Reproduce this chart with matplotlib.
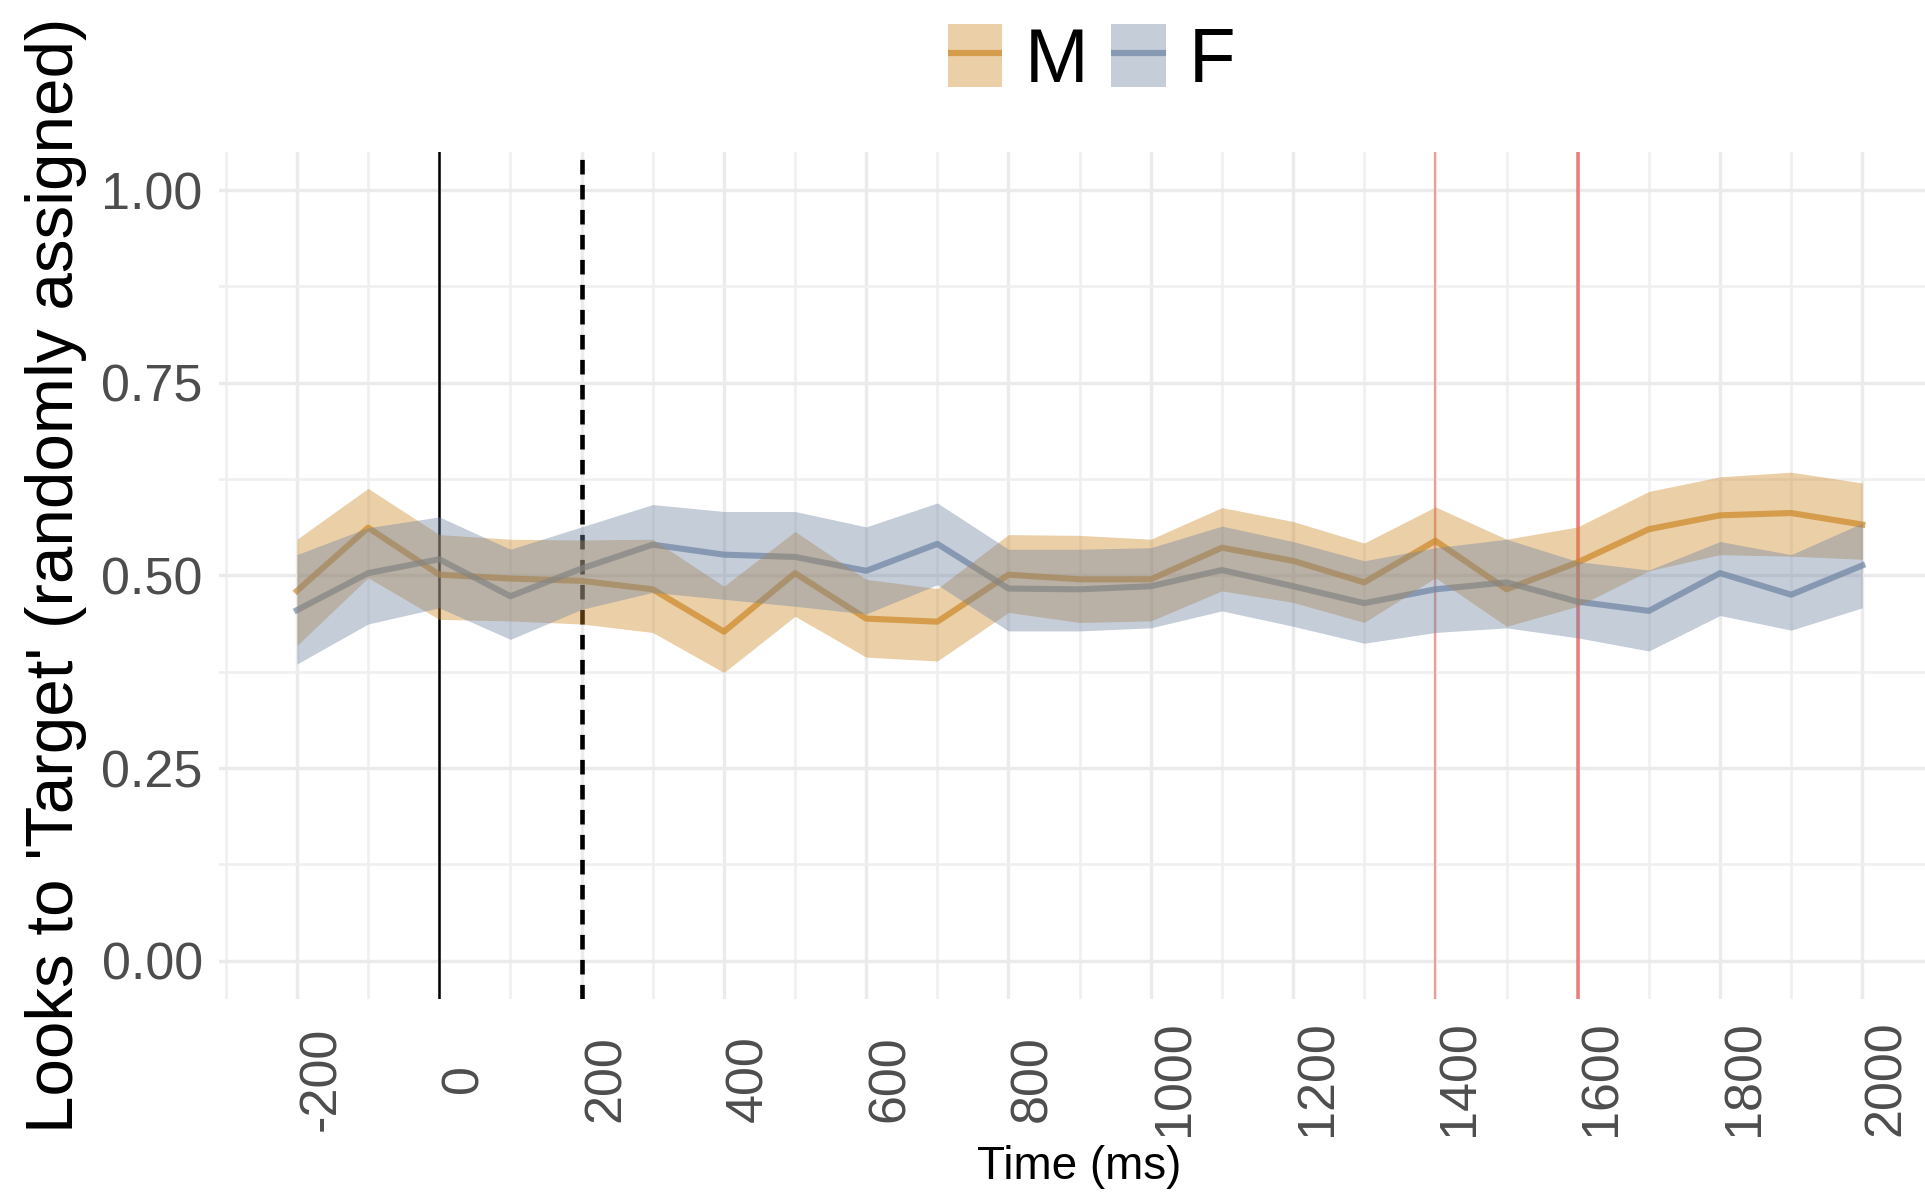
import matplotlib
matplotlib.use("Agg")
import matplotlib.pyplot as plt
from matplotlib.patches import Patch
from matplotlib.lines import Line2D
from matplotlib.legend_handler import HandlerTuple

plt.rcParams['font.family'] = ['Liberation Sans', 'DejaVu Sans']
plt.rcParams['axes.unicode_minus'] = False
plt.rcParams['lines.scale_dashes'] = False

# time bins (ms)
time_ms = [-200, -100, 0, 100, 200, 300, 400, 500, 600, 700, 800, 900,
           1000, 1100, 1200, 1300, 1400, 1500, 1600, 1700, 1800, 1900, 2000]

# M: mean and ribbon
m_mean = [0.480, 0.562, 0.501, 0.496, 0.493, 0.482, 0.427, 0.503, 0.444, 0.440, 0.501, 0.495,
          0.495, 0.536, 0.519, 0.491, 0.545, 0.482, 0.517, 0.560, 0.578, 0.581, 0.566]
m_upper = [0.547, 0.613, 0.553, 0.547, 0.546, 0.547, 0.486, 0.557, 0.495, 0.483, 0.553, 0.552,
           0.547, 0.588, 0.570, 0.542, 0.589, 0.547, 0.563, 0.609, 0.628, 0.634, 0.620]
m_lower = [0.409, 0.497, 0.443, 0.441, 0.437, 0.426, 0.374, 0.447, 0.394, 0.389, 0.452, 0.439,
           0.441, 0.480, 0.465, 0.439, 0.497, 0.434, 0.460, 0.506, 0.527, 0.525, 0.521]

# F: mean and ribbon
f_mean = [0.455, 0.503, 0.521, 0.473, 0.509, 0.540, 0.527, 0.524, 0.506, 0.541, 0.483, 0.482,
          0.486, 0.507, 0.486, 0.464, 0.482, 0.491, 0.466, 0.454, 0.503, 0.475, 0.513]
f_upper = [0.527, 0.562, 0.576, 0.534, 0.563, 0.592, 0.583, 0.583, 0.563, 0.594, 0.534, 0.534,
           0.536, 0.564, 0.544, 0.519, 0.536, 0.547, 0.518, 0.507, 0.544, 0.527, 0.568]
f_lower = [0.385, 0.437, 0.458, 0.417, 0.456, 0.478, 0.469, 0.460, 0.450, 0.488, 0.428, 0.428,
           0.432, 0.454, 0.434, 0.412, 0.426, 0.432, 0.419, 0.402, 0.448, 0.429, 0.458]

x_ticks = [-200, 0, 200, 400, 600, 800, 1000, 1200, 1400, 1600, 1800, 2000]
x_minor = [-300, -100, 100, 300, 500, 700, 900, 1100, 1300, 1500, 1700, 1900]
y_ticks = [0.0, 0.25, 0.5, 0.75, 1.0]
y_ticklabels = ['0.00', '0.25', '0.50', '0.75', '1.00']
y_minor = [0.125, 0.375, 0.625, 0.875]

col_m = '#CD8725'
col_f = '#6E84A2'

fig = plt.figure(figsize=(19.25, 11.93), dpi=100)
ax = fig.add_axes([0.1136, 0.1624, 0.8945, 0.7105])

# reference lines
ax.axvline(0, color='black', lw=1.8, zorder=1)
ax.axvline(200, color='black', lw=3.3, dashes=(10.5, 7.5), zorder=1)
ax.axvline(1400, color='#F05A5A', alpha=0.55, lw=1.6, zorder=1)
ax.axvline(1600, color='#F05A5A', alpha=0.75, lw=2.6, zorder=1)

# lines first, ribbons on top (as in the original)
ln_m, = ax.plot(time_ms, m_mean, color=col_m, alpha=0.7, lw=4.4, zorder=2)
ln_f, = ax.plot(time_ms, f_mean, color=col_f, alpha=0.7, lw=4.4, zorder=2)
ax.fill_between(time_ms, m_lower, m_upper, color=col_m, alpha=0.4, lw=0, zorder=3)
ax.fill_between(time_ms, f_lower, f_upper, color=col_f, alpha=0.4, lw=0, zorder=3)

ax.set_xlim(-310, 2110)
ax.set_ylim(-0.05, 1.05)
ax.set_xticks(x_ticks)
ax.set_xticks(x_minor, minor=True)
ax.set_xticklabels([str(t) for t in x_ticks])
ax.set_yticks(y_ticks)
ax.set_yticks(y_minor, minor=True)
ax.set_yticklabels(y_ticklabels)

ax.grid(which='major', color='#EBEBEB', lw=2.4, zorder=0)
ax.grid(which='minor', color='#EFEFEF', lw=1.8, zorder=0)
ax.set_axisbelow(True)
for s in ax.spines.values():
    s.set_visible(False)

ax.tick_params(axis='both', which='both', length=0)
ax.tick_params(axis='y', pad=11.5, labelsize=37.5, labelcolor='#4D4D4D')
ax.tick_params(axis='x', pad=57, labelsize=37.5, labelcolor='#4D4D4D')
for lab in ax.get_xticklabels():
    lab.set_rotation(90)
    lab.set_ha('left')
    lab.set_va('center')

ax.set_xlabel('Time (ms)', fontsize=33)
ax.xaxis.set_label_coords(0.5, -0.172)
ax.set_ylabel("Looks to 'Target' (randomly assigned)", fontsize=48.5)
ax.yaxis.set_label_coords(-0.0765, 0.5)

# legend: filled key with the line across it
h_m = (Line2D([], [], color=col_m, alpha=0.7, lw=4.5, solid_capstyle='butt'),
       Patch(facecolor=col_m, alpha=0.4, lw=0))
h_f = (Line2D([], [], color=col_f, alpha=0.7, lw=4.5, solid_capstyle='butt'),
       Patch(facecolor=col_f, alpha=0.4, lw=0))
fig.legend([h_m, h_f], ['M', 'F'], handler_map={tuple: HandlerTuple(ndivide=1)},
           loc='center', bbox_to_anchor=(0.567, 0.949), ncol=2, frameon=False,
           fontsize=55, handlelength=0.71, handleheight=0.89, handletextpad=0.3,
           columnspacing=0.3, borderpad=0, borderaxespad=0)

fig.savefig('out.png', dpi=100)
